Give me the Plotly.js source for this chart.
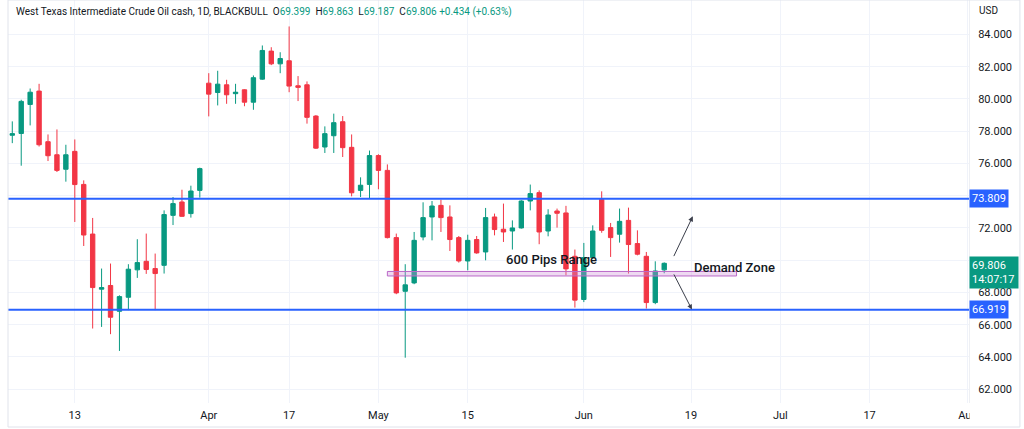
<!DOCTYPE html>
<html>
<head>
<meta charset="utf-8">
<script src="https://cdn.plot.ly/plotly-3.0.1.min.js"></script>
<style>
  html, body { margin: 0; padding: 0; background: #ffffff; }
  #chart { width: 1024px; height: 429px; }
</style>
</head>
<body>
<div id="chart"></div>
<script>
// daily bars, WTI cash (BLACKBULL), Mar 2 .. Jun 14
var opens = [77.75, 77.86, 79.66, 80.49, 77.35, 76.54, 75.64, 76.75, 74.70, 71.62,
    68.20, 68.43, 66.83, 67.70, 69.40, 69.93, 69.48, 69.68, 72.78, 73.61,
    72.89, 74.33, 80.98, 80.40, 80.88, 80.33, 80.57, 79.80, 81.23, 82.97,
    82.18, 82.37, 80.82, 80.88, 78.94, 77.02, 77.72, 78.59, 77.00, 74.33,
    74.70, 76.49, 75.57, 71.40, 68.07, 68.59, 71.44, 72.68, 73.40, 72.68,
    71.40, 69.95, 71.28, 70.51, 72.68, 71.92, 71.81, 72.00, 73.67, 74.19,
    71.81, 73.05, 72.93, 70.24, 67.56, 70.16, 73.77, 72.02, 71.61, 72.47,
    71.03, 70.24, 67.37, 69.399];
var highs = [78.61, 79.95, 80.65, 80.94, 77.80, 78.11, 77.16, 77.49, 74.95, 72.62,
    69.48, 69.79, 67.82, 69.75, 71.30, 71.65, 70.41, 73.09, 73.92, 74.37,
    74.62, 75.74, 81.60, 81.75, 81.19, 80.94, 80.60, 81.46, 83.32, 83.21,
    82.90, 84.50, 81.42, 81.09, 79.00, 78.30, 79.09, 78.94, 77.80, 75.14,
    76.80, 76.57, 75.94, 71.65, 69.75, 71.75, 73.59, 73.67, 73.75, 73.40,
    71.50, 71.58, 71.50, 73.24, 72.89, 73.51, 72.47, 73.72, 74.69, 74.33,
    73.16, 73.20, 73.37, 70.66, 71.07, 72.16, 74.27, 72.31, 73.20, 73.26,
    71.85, 70.51, 69.93, 69.863];
var lows = [77.26, 75.86, 78.36, 77.05, 76.15, 75.47, 74.87, 72.37, 70.88, 65.76,
    65.86, 65.41, 64.37, 66.90, 68.90, 69.15, 66.90, 69.17, 72.18, 72.70,
    72.64, 73.88, 78.92, 79.60, 79.70, 79.70, 79.55, 79.33, 81.19, 82.10,
    81.60, 80.42, 79.87, 78.47, 76.90, 76.65, 76.65, 76.40, 73.96, 73.92,
    73.82, 74.40, 71.35, 67.89, 63.95, 68.51, 71.23, 71.23, 71.75, 70.57,
    69.85, 69.37, 70.40, 69.99, 71.54, 71.13, 70.66, 71.96, 73.09, 70.99,
    71.48, 72.02, 69.06, 67.06, 67.40, 70.10, 71.70, 70.20, 71.09, 69.17,
    70.30, 67.00, 67.27, 69.187];
var closes = [77.85, 79.85, 80.42, 77.16, 76.48, 75.57, 76.54, 74.69, 71.56, 68.30,
    68.30, 66.46, 67.74, 69.44, 69.85, 69.42, 69.17, 72.83, 73.51, 72.72,
    74.29, 75.68, 80.30, 80.92, 80.26, 80.42, 79.80, 81.32, 83.01, 82.18,
    82.51, 80.80, 80.72, 78.86, 76.95, 77.85, 78.53, 76.98, 74.18, 74.65,
    76.49, 75.57, 71.40, 67.97, 68.47, 71.23, 72.64, 73.36, 72.64, 71.28,
    69.95, 71.23, 70.45, 72.64, 71.90, 71.75, 72.00, 73.67, 74.13, 71.75,
    72.80, 72.91, 69.46, 67.52, 70.16, 71.81, 71.85, 71.40, 72.41, 70.97,
    70.37, 67.37, 69.33, 69.806];

// time axis labels, placed at bar index
var tickBars = [7, 22, 31, 41, 51, 64, 76, 86, 96, 107];
var tickLabels = ["13", "Apr", "17", "May", "15", "Jun", "19", "Jul", "17", "Aug"];

var priceTicks = [62, 64, 66, 68, 70, 72, 74, 76, 78, 80, 82, 84];
// labels hidden by the price tags on the scale
var hiddenPrices = [70, 74];

// horizontal range levels
var levels = [73.809, 66.919];

// demand zone box [bar from, bar to, price low, price high]
var zoneBars = [42, 81.1];
var zonePrices = [69.02, 69.30];

var lastChange = "+0.434 (+0.63%)";
var lastTime = "14:07:17";

var green = "#089981", red = "#F23645", blue = "#2962FF", ink = "#131722";
var fontFam = "Roboto, 'Liberation Sans', sans-serif";

var bars = opens.map(function (v, i) { return i; });
var last = opens.length - 1;

var trace = {
    type: "candlestick",
    x: bars,
    open: opens,
    high: highs,
    low: lows,
    close: closes,
    increasing: {line: {color: green, width: 1}, fillcolor: green},
    decreasing: {line: {color: red, width: 1}, fillcolor: red},
    whiskerwidth: 0,
    hoverinfo: "skip"
};

var fmt = function (v) { return v.toFixed(3); };

var header = "West Texas Intermediate Crude Oil cash, 1D, BLACKBULL  " +
    "O<span style='color:" + green + "'>" + fmt(opens[last]) + "</span>  " +
    "H<span style='color:" + green + "'>" + fmt(highs[last]) + "</span>  " +
    "L<span style='color:" + green + "'>" + fmt(lows[last]) + "</span>  " +
    "C<span style='color:" + green + "'>" + fmt(closes[last]) + "</span> " +
    "<span style='color:" + green + "'>" + lastChange + "</span>";

var annotations = [
    {xref: "paper", yref: "paper", x: 0.0062, y: 0.971, xanchor: "left", yanchor: "middle",
        text: header, showarrow: false, font: {family: fontFam, size: 10, color: ink}},
    {xref: "paper", yref: "paper", x: 1.0083, y: 0.975, xanchor: "left", yanchor: "middle",
        text: "USD", showarrow: false, font: {family: fontFam, size: 10, color: ink}},
    {x: 60.4, y: 70.06, text: "600 Pips Range", showarrow: false,
        font: {family: fontFam, size: 13, color: ink, weight: 500}},
    {x: 80.9, y: 69.52, text: "Demand Zone", showarrow: false,
        font: {family: fontFam, size: 13, color: ink, weight: 500}},
    // arrows: up / down out of the zone
    {x: 76.2, y: 72.72, ax: 74.0, ay: 70.16, axref: "x", ayref: "y", text: "",
        showarrow: true, arrowhead: 2, arrowsize: 1, arrowwidth: 1, arrowcolor: "#3a3e4a"},
    {x: 76.1, y: 66.94, ax: 74.0, ay: 69.21, axref: "x", ayref: "y", text: "",
        showarrow: true, arrowhead: 2, arrowsize: 1, arrowwidth: 1, arrowcolor: "#3a3e4a"},
    // last price tag
    {xref: "paper", x: 1.0, y: closes[last], xanchor: "left", yanchor: "top", yshift: 7,
        text: fmt(closes[last]) + "<br>" + lastTime, align: "left", showarrow: false,
        width: 44, bgcolor: green, borderpad: 2, font: {family: fontFam, size: 11, color: "#ffffff"}}
];

levels.forEach(function (lv) {
    annotations.push({xref: "paper", x: 1.0, y: lv, xanchor: "left", yanchor: "middle",
        text: fmt(lv), showarrow: false, bgcolor: blue, borderpad: 2,
        font: {family: fontFam, size: 11, color: "#ffffff"}});
});

var shapes = levels.map(function (lv) {
    return {type: "line", xref: "paper", x0: 0, x1: 1, yref: "y", y0: lv, y1: lv,
        line: {color: blue, width: 2}, layer: "above"};
});
shapes.push({type: "rect", x0: zoneBars[0], x1: zoneBars[1], y0: zonePrices[0], y1: zonePrices[1],
    fillcolor: "rgba(206,147,216,0.35)", line: {color: "#BA68C8", width: 1}, layer: "above"});
// hide the part of the last time label under the price scale
shapes.push({type: "rect", xref: "paper", yref: "paper", x0: 1.0006, x1: 1.052, y0: -0.062, y1: -0.002,
    fillcolor: "#ffffff", line: {width: 0}, layer: "above"});
// widget frame
shapes.push({type: "rect", xref: "paper", yref: "paper", x0: 0, x1: 1.053, y0: -0.0596, y1: 1.0,
    fillcolor: "rgba(0,0,0,0)", line: {color: "#e0e3eb", width: 1}, layer: "above"});

var layout = {
    width: 1024,
    height: 429,
    margin: {l: 8, r: 55, t: 0, b: 26},
    paper_bgcolor: "#ffffff",
    plot_bgcolor: "#ffffff",
    showlegend: false,
    dragmode: false,
    font: {family: fontFam, size: 11, color: ink},
    xaxis: {
        type: "linear",
        range: [-0.48, 107.13],
        rangeslider: {visible: false},
        tickvals: tickBars,
        ticktext: tickLabels,
        showgrid: true,
        gridcolor: "#f0f3fa",
        zeroline: false,
        showline: false,
        ticks: "",
        ticklabelstandoff: 4,
        tickfont: {family: fontFam, size: 11, color: ink}
    },
    yaxis: {
        side: "right",
        range: [61.14, 86.14],
        tickvals: priceTicks,
        ticktext: priceTicks.map(function (p) {
            return hiddenPrices.indexOf(p) >= 0 ? "" : fmt(p);
        }),
        showgrid: true,
        gridcolor: "#f0f3fa",
        zeroline: false,
        showline: true,
        linecolor: "#eef0f4",
        ticks: "",
        ticklabelstandoff: 6,
        tickfont: {family: fontFam, size: 11, color: ink}
    },
    shapes: shapes,
    annotations: annotations
};

Plotly.newPlot("chart", [trace], layout, {staticPlot: true, displayModeBar: false});
</script>
</body>
</html>
